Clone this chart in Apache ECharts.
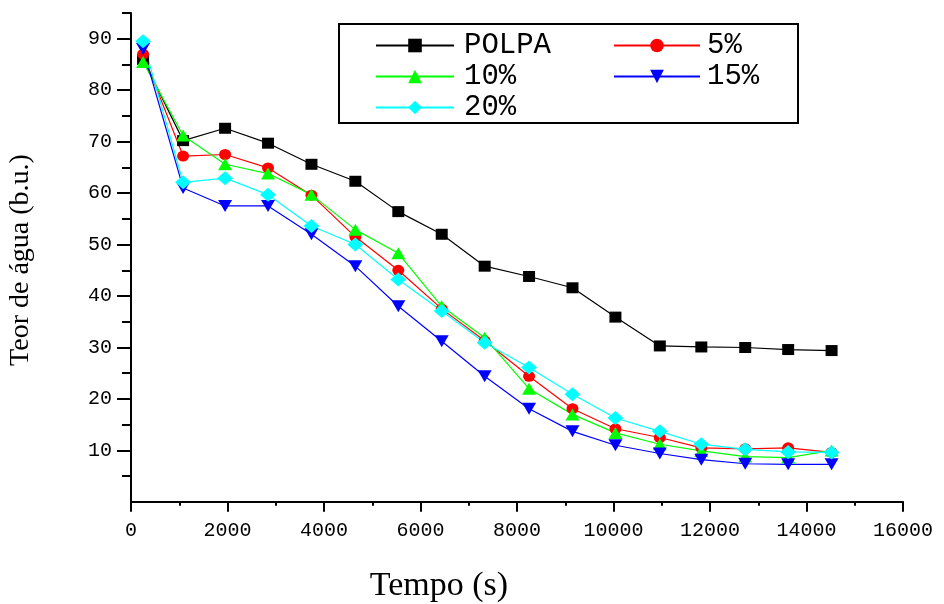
<!DOCTYPE html>
<html>
<head>
<meta charset="utf-8">
<script src="https://cdn.jsdelivr.net/npm/echarts@6/dist/echarts.min.js"></script>
<style>html,body{margin:0;padding:0;background:#fff;}#c{width:944px;height:604px;}</style>
</head>
<body>
<div id="c"></div>
<script>
// Time (s)
const tempo = [250, 1080, 1950, 2840, 3740, 4650, 5540, 6440, 7330, 8250, 9150, 10040, 10960, 11820, 12730, 13620, 14520];
// Teor de água (b.u.)
const polpa = [86, 70.2, 72.6, 69.7, 65.6, 62.3, 56.4, 52.0, 45.8, 43.8, 41.6, 35.9, 30.3, 30.1, 30.0, 29.6, 29.4];
const p5    = [87, 67.2, 67.5, 64.9, 59.6, 51.5, 45.0, 37.5, 31.3, 24.4, 18.1, 14.2, 12.5, 10.5, 10.3, 10.5, 9.6];
const p10   = [85.5, 71.2, 65.6, 63.8, 59.7, 52.9, 48.3, 38.0, 31.9, 22.0, 17.0, 13.4, 11.2, 9.9, 8.8, 8.6, 10.0];
const p15   = [88, 61.0, 57.5, 57.5, 52.0, 45.8, 38.0, 31.2, 24.4, 18.1, 13.7, 11.0, 9.4, 8.2, 7.4, 7.3, 7.3];
const p20   = [89.5, 62.1, 62.9, 59.7, 53.6, 50.0, 43.2, 37.1, 30.9, 26.1, 20.9, 16.3, 13.7, 11.2, 10.2, 9.7, 9.6];
const seriesNames = ['POLPA', '5%', '10%', '15%', '20%'];
const yMajorTicks = [10, 20, 30, 40, 50, 60, 70, 80, 90];
const yMinorTicks = [5, 15, 25, 35, 45, 55, 65, 75, 85, 95];

const pairs = arr => tempo.map((t, i) => [t, arr[i]]);

const chart = echarts.init(document.getElementById('c'), null, {renderer: 'canvas'});
const axisColor = '#000';
const tickFont = {fontFamily: 'Liberation Mono', fontSize: 20, color: '#000'};

function mkSeries(name, arr, color, symbol, size, rotate) {
  return {
    name: name, type: 'line', xAxisIndex: 0, yAxisIndex: 0,
    data: pairs(arr),
    symbol: symbol, symbolSize: size, symbolRotate: rotate || 0,
    showAllSymbol: true,
    lineStyle: {color: color, width: 1.2},
    itemStyle: {color: color},
    emphasis: {disabled: true}
  };
}

const legendText = {fontFamily: 'Liberation Mono', fontSize: 29, color: '#000'};

const option = {
  animation: false,
  backgroundColor: '#fff',
  grid: [
    {left: 131, right: 41, top: 13, bottom: 97, containLabel: false, outerBoundsMode: 'none'},
    {left: 131, right: 41, top: 13, bottom: 97, containLabel: false, outerBoundsMode: 'none'}
  ],
  xAxis: [
    {
      gridIndex: 0, type: 'value', min: 0, max: 16000, interval: 2000,
      name: 'Tempo (s)', nameLocation: 'middle', nameGap: 62,
      nameTextStyle: {fontFamily: 'Liberation Serif', fontSize: 34, color: '#000', padding: [0, 156, 0, 0]},
      axisLine: {show: true, lineStyle: {color: axisColor, width: 2}},
      axisTick: {show: true, length: 10, lineStyle: {color: axisColor, width: 2}},
      minorTick: {show: true, splitNumber: 2, length: 4, lineStyle: {color: axisColor, width: 2}},
      splitLine: {show: false}, minorSplitLine: {show: false},
      axisLabel: Object.assign({margin: 14, showMinLabel: true, showMaxLabel: true, formatter: v => String(v)}, tickFont)
    },
    {gridIndex: 1, type: 'value', min: 0, max: 16000, show: false}
  ],
  yAxis: [
    {
      gridIndex: 0, type: 'value', min: -1, max: 95,
      name: 'Teor de água (b.u.)', nameLocation: 'middle', nameGap: 96, nameRotate: 90,
      nameTextStyle: {fontFamily: 'Liberation Serif', fontSize: 28, color: '#000'},
      axisLine: {show: true, onZero: false, lineStyle: {color: axisColor, width: 2}},
      axisTick: {show: true, length: 14, customValues: yMajorTicks, lineStyle: {color: axisColor, width: 2}},
      splitLine: {show: false},
      axisLabel: Object.assign({margin: 19, customValues: yMajorTicks, formatter: v => String(v)}, tickFont)
    },
    {
      gridIndex: 1, type: 'value', min: -1, max: 95, position: 'left',
      axisLine: {show: false},
      axisTick: {show: true, length: 9, customValues: yMinorTicks, lineStyle: {color: axisColor, width: 2}},
      axisLabel: {show: false},
      splitLine: {show: false}
    }
  ],
  legend: [
    {
      data: ['POLPA', '10%', '20%'], orient: 'vertical', left: 375, top: 31, padding: 0,
      itemWidth: 78, itemHeight: 17, itemGap: 2,
      textStyle: Object.assign({padding: [0, 0, 0, 5]}, legendText),
      selectedMode: false
    },
    {
      data: ['5%', '15%'], orient: 'vertical', left: 613, top: 31, padding: 0,
      itemWidth: 86, itemHeight: 17, itemGap: 2,
      textStyle: Object.assign({padding: [0, 0, 0, 2]}, legendText),
      selectedMode: false
    }
  ],
  graphic: [
    {type: 'rect', shape: {x: 339, y: 24, width: 459, height: 99}, style: {fill: 'none', stroke: '#000', lineWidth: 2}, z: 0, silent: true}
  ],
  series: [
    mkSeries(seriesNames[0], polpa, '#000000', 'rect', [12, 11]),
    mkSeries(seriesNames[1], p5, '#ff0000', 'circle', [12, 11]),
    mkSeries(seriesNames[2], p10, '#00ff00', 'triangle', [14, 12]),
    mkSeries(seriesNames[3], p15, '#0000ff', 'triangle', [14, 12], 180),
    mkSeries(seriesNames[4], p20, '#00ffff', 'diamond', [16, 14])
  ]
};
chart.setOption(option);
</script>
</body>
</html>
